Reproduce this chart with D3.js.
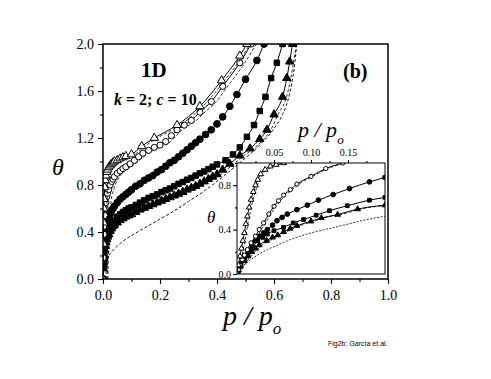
<!DOCTYPE html>
<html lang="en">
<head>
<meta charset="UTF-8">
<title>1D isotherms, k = 2; c = 10</title>
<script src="https://d3js.org/d3.v7.min.js"></script>
<style>
  body { margin: 0; background: #fff; }
  svg { display: block; font-family: "Liberation Serif", "Times New Roman", serif; }
</style>
</head>
<body>
<svg id="chart"></svg>
<script>
// ---- main panel: theta vs p/po ----
const pA  = [0, 0.001, 0.002, 0.003, 0.004, 0.006, 0.008, 0.01, 0.013, 0.016, 0.02, 0.025, 0.03, 0.035, 0.04, 0.05, 0.06, 0.07, 0.08, 0.1, 0.136, 0.18, 0.26, 0.34, 0.416, 0.48, 0.505];
const thA = [0, 0.3, 0.48, 0.6, 0.68, 0.78, 0.84, 0.88, 0.91, 0.93, 0.95, 0.965, 0.98, 0.99, 1.0, 1.01, 1.025, 1.035, 1.045, 1.06, 1.13, 1.2, 1.31, 1.47, 1.69, 1.9, 2.0];

const pB  = [0, 0.001, 0.002, 0.003, 0.004, 0.006, 0.008, 0.01, 0.013, 0.016, 0.02, 0.025, 0.03, 0.035, 0.04, 0.05, 0.06, 0.07, 0.08, 0.095, 0.11, 0.125, 0.14, 0.16, 0.18, 0.2, 0.22, 0.24, 0.26, 0.285, 0.31, 0.34, 0.38, 0.42, 0.48, 0.52];
const thB = [0, 0.18, 0.3, 0.38, 0.45, 0.54, 0.6, 0.65, 0.7, 0.73, 0.76, 0.8, 0.83, 0.85, 0.87, 0.9, 0.92, 0.94, 0.955, 0.98, 1.01, 1.04, 1.07, 1.095, 1.12, 1.14, 1.17, 1.22, 1.27, 1.31, 1.35, 1.42, 1.51, 1.64, 1.84, 2.0];

const pC  = [0, 0.001, 0.002, 0.003, 0.004, 0.006, 0.008, 0.01, 0.013, 0.016, 0.02, 0.025, 0.03, 0.035, 0.04, 0.05, 0.06, 0.07, 0.08, 0.09, 0.1, 0.115, 0.13, 0.145, 0.16, 0.175, 0.19, 0.205, 0.22, 0.235, 0.25, 0.265, 0.28, 0.295, 0.31, 0.325, 0.34, 0.36, 0.38, 0.4, 0.42, 0.445, 0.47, 0.5, 0.54, 0.565];
const thC = [0, 0.12, 0.2, 0.25, 0.29, 0.35, 0.39, 0.42, 0.46, 0.49, 0.52, 0.55, 0.58, 0.6, 0.62, 0.65, 0.68, 0.7, 0.72, 0.74, 0.76, 0.79, 0.81, 0.84, 0.86, 0.88, 0.91, 0.93, 0.96, 0.99, 1.01, 1.04, 1.07, 1.1, 1.13, 1.16, 1.19, 1.23, 1.27, 1.32, 1.38, 1.47, 1.57, 1.7, 1.86, 2.0];

const pD  = [0, 0.001, 0.002, 0.003, 0.004, 0.006, 0.008, 0.01, 0.013, 0.016, 0.02, 0.025, 0.03, 0.035, 0.04, 0.05, 0.06, 0.07, 0.08, 0.09, 0.1, 0.115, 0.13, 0.145, 0.16, 0.175, 0.19, 0.205, 0.22, 0.235, 0.25, 0.265, 0.28, 0.295, 0.31, 0.325, 0.34, 0.355, 0.37, 0.385, 0.4, 0.43, 0.456, 0.48, 0.505, 0.53, 0.55, 0.57, 0.59, 0.61, 0.63];
const thD = [0, 0.1, 0.16, 0.2, 0.23, 0.28, 0.31, 0.34, 0.37, 0.4, 0.42, 0.45, 0.47, 0.49, 0.5, 0.53, 0.55, 0.57, 0.585, 0.6, 0.61, 0.63, 0.65, 0.67, 0.69, 0.705, 0.72, 0.74, 0.755, 0.77, 0.79, 0.81, 0.825, 0.845, 0.86, 0.88, 0.9, 0.915, 0.935, 0.955, 0.975, 1.01, 1.06, 1.12, 1.21, 1.31, 1.43, 1.55, 1.71, 1.84, 2.0];

const pE  = [0, 0.001, 0.002, 0.003, 0.004, 0.006, 0.008, 0.01, 0.013, 0.016, 0.02, 0.025, 0.03, 0.035, 0.04, 0.05, 0.06, 0.07, 0.08, 0.09, 0.1, 0.115, 0.13, 0.145, 0.16, 0.175, 0.19, 0.205, 0.22, 0.235, 0.25, 0.265, 0.28, 0.295, 0.31, 0.325, 0.34, 0.355, 0.37, 0.385, 0.4, 0.42, 0.445, 0.48, 0.516, 0.55, 0.575, 0.6, 0.63, 0.645, 0.655, 0.665];
const thE = [0, 0.09, 0.14, 0.18, 0.21, 0.25, 0.28, 0.31, 0.34, 0.36, 0.38, 0.41, 0.43, 0.45, 0.46, 0.48, 0.5, 0.515, 0.53, 0.54, 0.55, 0.57, 0.59, 0.605, 0.62, 0.635, 0.65, 0.665, 0.68, 0.695, 0.71, 0.725, 0.74, 0.76, 0.775, 0.79, 0.81, 0.83, 0.85, 0.87, 0.89, 0.93, 0.98, 1.05, 1.11, 1.19, 1.27, 1.4, 1.55, 1.71, 1.85, 2.0];

// lowest curve, no symbols
const pF  = [0, 0.002, 0.005, 0.01, 0.02, 0.03, 0.05, 0.075, 0.1, 0.15, 0.2, 0.25, 0.3, 0.35, 0.4, 0.45, 0.5, 0.55, 0.6, 0.63, 0.655, 0.67, 0.68];
const thF = [0, 0.07, 0.11, 0.15, 0.2, 0.23, 0.28, 0.33, 0.37, 0.44, 0.51, 0.58, 0.66, 0.74, 0.83, 0.93, 1.03, 1.14, 1.28, 1.4, 1.58, 1.78, 2.0];

const xMajor = [0, 0.2, 0.4, 0.6, 0.8, 1.0];
const xMinor = [0.1, 0.3, 0.5, 0.7, 0.9];
const yMajor = [0, 0.4, 0.8, 1.2, 1.6, 2.0];
const yMinor = [0.2, 0.6, 1.0, 1.4, 1.8];

// ---- inset: low pressure region ----
const ipA  = [0, 0.002, 0.004, 0.006, 0.008, 0.01, 0.012, 0.014, 0.0165, 0.019, 0.022, 0.025, 0.028, 0.032, 0.038, 0.045, 0.053, 0.063, 0.075, 0.09];
const ithA = [0, 0.08, 0.16, 0.23, 0.3, 0.37, 0.45, 0.52, 0.6, 0.67, 0.74, 0.8, 0.85, 0.9, 0.94, 0.97, 0.985, 1.0, 1.02, 1.04];

const ipB  = [0, 0.002, 0.004, 0.007, 0.01, 0.014, 0.019, 0.025, 0.03, 0.036, 0.043, 0.05, 0.056, 0.063, 0.072, 0.081, 0.1, 0.12, 0.143, 0.17];
const ithB = [0, 0.04, 0.08, 0.13, 0.17, 0.22, 0.28, 0.34, 0.4, 0.46, 0.54, 0.61, 0.66, 0.71, 0.76, 0.81, 0.88, 0.95, 1.0, 1.05];

const ipC  = [0, 0.002, 0.005, 0.01, 0.015, 0.02, 0.025, 0.03, 0.036, 0.041, 0.048, 0.054, 0.061, 0.068, 0.081, 0.095, 0.11, 0.13, 0.152, 0.179, 0.2];
const ithC = [0, 0.04, 0.09, 0.15, 0.21, 0.26, 0.3, 0.34, 0.37, 0.4, 0.44, 0.48, 0.51, 0.54, 0.58, 0.62, 0.665, 0.716, 0.77, 0.83, 0.87];

const ipD  = [0, 0.002, 0.005, 0.01, 0.015, 0.02, 0.028, 0.035, 0.041, 0.05, 0.063, 0.076, 0.09, 0.107, 0.125, 0.149, 0.179, 0.2];
const ithD = [0, 0.04, 0.08, 0.13, 0.18, 0.23, 0.3, 0.33, 0.36, 0.39, 0.42, 0.46, 0.49, 0.53, 0.57, 0.615, 0.665, 0.69];

const ipE  = [0, 0.002, 0.005, 0.01, 0.015, 0.02, 0.025, 0.03, 0.04, 0.048, 0.055, 0.063, 0.072, 0.081, 0.1, 0.114, 0.136, 0.163, 0.2];
const ithE = [0, 0.035, 0.07, 0.12, 0.16, 0.2, 0.23, 0.26, 0.3, 0.33, 0.35, 0.38, 0.41, 0.435, 0.475, 0.505, 0.535, 0.585, 0.62];

const ipF  = [0, 0.002, 0.005, 0.01, 0.019, 0.03, 0.041, 0.055, 0.068, 0.085, 0.1, 0.125, 0.15, 0.175, 0.2];
const ithF = [0, 0.02, 0.04, 0.08, 0.13, 0.18, 0.22, 0.26, 0.3, 0.34, 0.37, 0.41, 0.45, 0.49, 0.52];

const ixMajor = [0.05, 0.10, 0.15];
const ixMinor = [0.025, 0.075, 0.125, 0.175];
const iyMajor = [0, 0.4, 0.8];
const iyMinor = [0.2, 0.6, 1.0];

const W = 491, H = 379;
const svg = d3.select("#chart").attr("width", W).attr("height", H);
svg.append("rect").attr("width", W).attr("height", H).attr("fill", "#fff");

const x = d3.scaleLinear().domain([0, 1]).range([103, 388]);
const y = d3.scaleLinear().domain([0, 2]).range([279, 44]);
const xi = d3.scaleLinear().domain([0, 0.2]).range([237, 385]);
const yi = d3.scaleLinear().domain([0, 1]).range([274, 163]);

const zip = (ps, ts) => ps.map((p, i) => ({p: p, t: ts[i]}));

const defs = svg.append("defs");
defs.append("clipPath").attr("id", "clipMain").append("rect")
  .attr("x", x(0)).attr("y", y(2)).attr("width", x(1) - x(0)).attr("height", y(0) - y(2));
defs.append("clipPath").attr("id", "clipInset").append("rect")
  .attr("x", xi(0)).attr("y", yi(1)).attr("width", xi(0.2) - xi(0)).attr("height", yi(0) - yi(1));

function drawSeries(g, sx, sy, s) {
  const data = zip(s.p, s.t);
  const line = d3.line().x(d => sx(d.p)).y(d => sy(d.t)).curve(d3.curveMonotoneX);
  if (s.comp) {
    g.append("path").datum(data).attr("d", line)
      .attr("transform", `translate(${s.comp},0)`)
      .attr("fill", "none").attr("stroke", "#000").attr("stroke-width", 0.8)
      .attr("stroke-dasharray", "3,2");
  }
  g.append("path").datum(data).attr("d", line)
    .attr("fill", "none").attr("stroke", "#000")
    .attr("stroke-width", s.lw || 1)
    .attr("stroke-dasharray", s.dash || null);
  if (!s.sym) return;
  g.selectAll(null).data(data).join("path")
    .attr("transform", d => `translate(${sx(d.p)},${sy(d.t)})`)
    .attr("d", d3.symbol().type(s.sym).size(s.size))
    .attr("fill", s.fill).attr("stroke", "#000").attr("stroke-width", 1);
}

// ---- main panel ----
const gMain = svg.append("g").attr("clip-path", "url(#clipMain)");
const mainSeries = [
  {p: pF, t: thF, dash: "3,2", lw: 0.9},
  {p: pE, t: thE, sym: d3.symbolTriangle, fill: "#000", size: 30, comp: 4},
  {p: pD, t: thD, sym: d3.symbolSquare, fill: "#000", size: 30},
  {p: pC, t: thC, sym: d3.symbolCircle, fill: "#000", size: 36},
  {p: pB, t: thB, sym: d3.symbolCircle, fill: "#fff", size: 30, comp: 5},
  {p: pA, t: thA, sym: d3.symbolTriangle, fill: "#fff", size: 30, comp: 3}
];
mainSeries.forEach(s => drawSeries(gMain, x, y, s));

svg.append("rect")
  .attr("x", x(0)).attr("y", y(2)).attr("width", x(1) - x(0)).attr("height", y(0) - y(2))
  .attr("fill", "none").attr("stroke", "#000").attr("stroke-width", 1.5);

const serif = "'Liberation Serif', 'Times New Roman', serif";
function styleAxis(g, fs) {
  g.select(".domain").remove();
  g.selectAll("line").attr("stroke", "#000").attr("stroke-width", 1.1);
  g.selectAll("text").attr("fill", "#000").style("font-size", fs + "px").style("font-family", serif);
}

svg.append("g").attr("transform", `translate(0,${y(0)})`)
  .call(d3.axisBottom(x).tickValues(xMinor).tickFormat("").tickSize(3))
  .call(g => styleAxis(g, 14));
svg.append("g").attr("transform", `translate(0,${y(0)})`)
  .call(d3.axisBottom(x).tickValues(xMajor).tickFormat(d3.format(".1f")).tickSize(5).tickPadding(6))
  .call(g => styleAxis(g, 14));
svg.append("g").attr("transform", `translate(${x(0)},0)`)
  .call(d3.axisLeft(y).tickValues(yMinor).tickFormat("").tickSize(3))
  .call(g => styleAxis(g, 14));
svg.append("g").attr("transform", `translate(${x(0)},0)`)
  .call(d3.axisLeft(y).tickValues(yMajor).tickFormat(d3.format(".1f")).tickSize(5).tickPadding(4))
  .call(g => styleAxis(g, 14));

// ---- inset ----
svg.append("rect")
  .attr("x", xi(0)).attr("y", yi(1)).attr("width", xi(0.2) - xi(0)).attr("height", yi(0) - yi(1))
  .attr("fill", "#fff");
const gIn = svg.append("g").attr("clip-path", "url(#clipInset)");
const insetSeries = [
  {p: ipF, t: ithF, dash: "2,1.5", lw: 0.8},
  {p: ipE, t: ithE, sym: d3.symbolTriangle, fill: "#000", size: 14, comp: 3},
  {p: ipD, t: ithD, sym: d3.symbolSquare, fill: "#000", size: 14},
  {p: ipC, t: ithC, sym: d3.symbolCircle, fill: "#000", size: 18},
  {p: ipB, t: ithB, sym: d3.symbolCircle, fill: "#fff", size: 14, comp: 2},
  {p: ipA, t: ithA, sym: d3.symbolTriangle, fill: "#fff", size: 14, comp: 2}
];
insetSeries.forEach(s => drawSeries(gIn, xi, yi, s));
svg.append("rect")
  .attr("x", xi(0)).attr("y", yi(1)).attr("width", xi(0.2) - xi(0)).attr("height", yi(0) - yi(1))
  .attr("fill", "none").attr("stroke", "#000").attr("stroke-width", 1);

svg.append("g").attr("transform", `translate(0,${yi(1)})`)
  .call(d3.axisTop(xi).tickValues(ixMinor).tickFormat("").tickSize(2))
  .call(g => styleAxis(g, 10));
svg.append("g").attr("transform", `translate(0,${yi(1)})`)
  .call(d3.axisTop(xi).tickValues(ixMajor).tickFormat(d3.format(".2f")).tickSize(3).tickPadding(4))
  .call(g => styleAxis(g, 10));
svg.append("g").attr("transform", `translate(${xi(0)},0)`)
  .call(d3.axisLeft(yi).tickValues(iyMinor).tickFormat("").tickSize(2))
  .call(g => styleAxis(g, 10));
svg.append("g").attr("transform", `translate(${xi(0)},0)`)
  .call(d3.axisLeft(yi).tickValues(iyMajor).tickFormat(d3.format(".1f")).tickSize(4).tickPadding(2))
  .call(g => styleAxis(g, 10));

// ---- labels ----
function ppo(xp, yb, fs, fsSub, dySub) {
  const t = svg.append("text").attr("x", xp).attr("y", yb)
    .style("font-family", serif).style("font-style", "italic").style("font-size", fs + "px");
  t.append("tspan").text("p / p");
  t.append("tspan").attr("dy", dySub).style("font-size", fsSub + "px").text("o");
}
ppo(223, 325, 28, 17, 9);
ppo(298, 137, 22, 13, 7);

svg.append("text").attr("x", 52).attr("y", 175)
  .style("font-family", serif).style("font-style", "italic").style("font-size", "24px").text("θ");
svg.append("text").attr("x", 207).attr("y", 223)
  .style("font-family", serif).style("font-style", "italic").style("font-size", "17px").text("θ");

svg.append("text").attr("x", 141).attr("y", 77)
  .style("font-family", serif).style("font-weight", "bold").style("font-size", "21px").text("1D");

const kc = svg.append("text").attr("x", 114).attr("y", 105)
  .style("font-family", serif).style("font-weight", "bold").style("font-size", "16px");
kc.append("tspan").style("font-style", "italic").text("k");
kc.append("tspan").text(" = 2; ");
kc.append("tspan").style("font-style", "italic").text("c");
kc.append("tspan").text(" = 10");

svg.append("text").attr("x", 343).attr("y", 78)
  .style("font-family", serif).style("font-weight", "bold").style("font-size", "20px").text("(b)");

svg.append("text").attr("x", 328).attr("y", 346)
  .style("font-family", "'Liberation Sans', Arial, sans-serif").style("font-size", "7px").text("Fig2b: García et al.");
</script>
</body>
</html>
